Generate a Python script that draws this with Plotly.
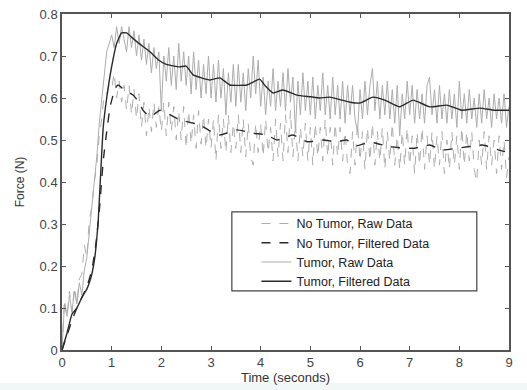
import plotly.graph_objects as go

# raw data sampled every 0.05 s
t_raw = [round(i * 0.05, 2) for i in range(181)]

tumor_raw = [
    0.00, 0.11, 0.08, 0.13, 0.09, 0.14, 0.11, 0.16, 0.13, 0.19,
    0.22, 0.28, 0.34, 0.40, 0.46, 0.54, 0.60, 0.66, 0.71, 0.73,
    0.75, 0.72, 0.77, 0.73, 0.77, 0.74, 0.71, 0.77, 0.72, 0.76,
    0.70, 0.75, 0.69, 0.74, 0.68, 0.73, 0.66, 0.72, 0.67, 0.71,
    0.57, 0.70, 0.64, 0.72, 0.63, 0.70, 0.62, 0.73, 0.64, 0.71,
    0.63, 0.70, 0.61, 0.71, 0.62, 0.69, 0.60, 0.68, 0.61, 0.70,
    0.60, 0.68, 0.59, 0.69, 0.60, 0.67, 0.56, 0.66, 0.59, 0.68,
    0.58, 0.68, 0.59, 0.66, 0.57, 0.67, 0.60, 0.70, 0.61, 0.69,
    0.58, 0.65, 0.56, 0.64, 0.58, 0.67, 0.57, 0.64, 0.58, 0.66,
    0.57, 0.67, 0.59, 0.65, 0.52, 0.64, 0.56, 0.66, 0.57, 0.64,
    0.56, 0.65, 0.55, 0.63, 0.57, 0.66, 0.56, 0.63, 0.55, 0.65,
    0.56, 0.63, 0.55, 0.64, 0.54, 0.63, 0.56, 0.63, 0.55, 0.52,
    0.62, 0.55, 0.64, 0.56, 0.63, 0.67, 0.57, 0.64, 0.55, 0.63,
    0.56, 0.64, 0.55, 0.62, 0.54, 0.63, 0.51, 0.61, 0.55, 0.64,
    0.56, 0.63, 0.54, 0.62, 0.55, 0.61, 0.54, 0.63, 0.65, 0.56,
    0.62, 0.54, 0.63, 0.55, 0.61, 0.54, 0.62, 0.55, 0.61, 0.53,
    0.64, 0.55, 0.61, 0.54, 0.62, 0.55, 0.60, 0.53, 0.61, 0.54,
    0.62, 0.55, 0.60, 0.53, 0.61, 0.55, 0.60, 0.54, 0.61, 0.53,
    0.58,
]

no_tumor_raw = [
    0.00, 0.12, 0.08, 0.14, 0.09, 0.15, 0.11, 0.17, 0.18, 0.25,
    0.22, 0.31, 0.34, 0.40, 0.44, 0.51, 0.55, 0.61, 0.61, 0.63,
    0.62, 0.66, 0.60, 0.64, 0.59, 0.63, 0.57, 0.63, 0.56, 0.62,
    0.55, 0.61, 0.53, 0.59, 0.51, 0.58, 0.52, 0.59, 0.53, 0.58,
    0.52, 0.59, 0.51, 0.59, 0.52, 0.58, 0.50, 0.57, 0.50, 0.58,
    0.48, 0.57, 0.49, 0.56, 0.48, 0.57, 0.49, 0.56, 0.48, 0.55,
    0.48, 0.55, 0.45, 0.56, 0.48, 0.55, 0.47, 0.56, 0.47, 0.54,
    0.48, 0.56, 0.47, 0.55, 0.46, 0.54, 0.46, 0.44, 0.54, 0.47,
    0.54, 0.46, 0.55, 0.47, 0.53, 0.45, 0.55, 0.46, 0.54, 0.45,
    0.56, 0.47, 0.57, 0.46, 0.54, 0.45, 0.53, 0.46, 0.54, 0.45,
    0.53, 0.44, 0.54, 0.46, 0.53, 0.45, 0.55, 0.46, 0.53, 0.44,
    0.54, 0.46, 0.53, 0.45, 0.52, 0.44, 0.42, 0.52, 0.44, 0.54,
    0.45, 0.52, 0.43, 0.53, 0.45, 0.54, 0.44, 0.52, 0.45, 0.53,
    0.43, 0.52, 0.45, 0.54, 0.44, 0.51, 0.43, 0.52, 0.44, 0.53,
    0.44, 0.51, 0.42, 0.52, 0.44, 0.53, 0.43, 0.51, 0.44, 0.52,
    0.43, 0.51, 0.44, 0.52, 0.42, 0.50, 0.43, 0.52, 0.44, 0.51,
    0.43, 0.53, 0.44, 0.52, 0.45, 0.52, 0.43, 0.40, 0.50, 0.44,
    0.52, 0.43, 0.51, 0.44, 0.50, 0.42, 0.51, 0.43, 0.50, 0.41,
    0.46,
]

t_tumor_filt = [0, 0.1, 0.2, 0.3, 0.4, 0.5, 0.55, 0.6, 0.66, 0.73, 0.77, 0.83, 0.9,
                1.0, 1.1, 1.2, 1.3, 1.4, 1.55, 1.77, 1.95, 2.1, 2.37, 2.5, 2.64, 2.98,
                3.18, 3.38, 3.72, 3.85, 3.98, 4.1, 4.25, 4.45, 4.73, 5.0, 5.19, 5.39, 5.8, 6.0,
                6.26, 6.5, 6.8, 7.07, 7.4, 7.75, 8.05, 8.41, 8.7, 9.0]
tumor_filt = [0, 0.04, 0.085, 0.10, 0.125, 0.145, 0.16, 0.18, 0.22, 0.31, 0.40, 0.53, 0.60,
              0.675, 0.73, 0.755, 0.755, 0.745, 0.73, 0.71, 0.69, 0.68, 0.674, 0.676, 0.655, 0.643,
              0.648, 0.631, 0.631, 0.638, 0.645, 0.628, 0.612, 0.619, 0.607, 0.603, 0.60, 0.602, 0.59, 0.588,
              0.602, 0.595, 0.579, 0.595, 0.579, 0.583, 0.571, 0.576, 0.571, 0.571]

t_no_tumor_filt = [0, 0.1, 0.2, 0.3, 0.4, 0.5, 0.6, 0.68, 0.75, 0.83, 0.9, 0.97, 1.07, 1.13,
                   1.25, 1.43, 1.55, 1.63, 1.77, 1.97, 2.1, 2.37, 2.78, 3.0, 3.18, 3.52, 3.85,
                   4.12, 4.33, 4.65, 4.93, 5.25, 5.53, 5.73, 5.93, 6.2, 6.6, 7.07, 7.4, 7.67,
                   7.94, 8.47, 8.8, 9.0]
no_tumor_filt = [0, 0.035, 0.07, 0.10, 0.125, 0.15, 0.19, 0.25, 0.33, 0.45, 0.52, 0.58, 0.623, 0.631,
                 0.62, 0.607, 0.59, 0.571, 0.555, 0.571, 0.565, 0.548, 0.536, 0.52, 0.512, 0.524, 0.516,
                 0.512, 0.50, 0.512, 0.496, 0.50, 0.496, 0.50, 0.486, 0.495, 0.484, 0.48, 0.488, 0.476,
                 0.48, 0.488, 0.476, 0.47]

x_ticks = [0, 1, 2, 3, 4, 5, 6, 7, 8, 9]
y_ticks = [0, 0.1, 0.2, 0.3, 0.4, 0.5, 0.6, 0.7, 0.8]
y_tick_text = ["0", "0.1", "0.2", "0.3", "0.4", "0.5", "0.6", "0.7", "0.8"]

FONT = "Liberation Sans, Arial, sans-serif"

fig = go.Figure()
fig.add_trace(go.Scatter(x=t_raw, y=no_tumor_raw, mode="lines", name="No Tumor, Raw Data",
                         line=dict(color="#adadad", width=1, dash="dash")))
fig.add_trace(go.Scatter(x=t_no_tumor_filt, y=no_tumor_filt, mode="lines", name="No Tumor, Filtered Data",
                         line=dict(color="#2a2a2a", width=1.4, dash="dash", shape="spline", smoothing=0.4)))
fig.add_trace(go.Scatter(x=t_raw, y=tumor_raw, mode="lines", name="Tumor, Raw Data",
                         line=dict(color="#adadad", width=1)))
fig.add_trace(go.Scatter(x=t_tumor_filt, y=tumor_filt, mode="lines", name="Tumor, Filtered Data",
                         line=dict(color="#2a2a2a", width=1.4, shape="spline", smoothing=0.4)))

axis_common = dict(showline=True, linecolor="#555555", linewidth=1.5, mirror="ticks",
                   ticks="inside", ticklen=4, tickcolor="#555555", showgrid=False, zeroline=False,
                   automargin=False,
                   tickfont=dict(family=FONT, size=13, color="#444444"))

fig.update_layout(
    width=527, height=390,
    margin=dict(l=62, r=18, t=14, b=40),
    paper_bgcolor="white", plot_bgcolor="white",
    font=dict(family=FONT, size=12, color="#333333"),
    xaxis=dict(range=[0, 9], tickvals=x_ticks, ticklabelstandoff=0,
               title=dict(text="Time (seconds)", font=dict(family=FONT, size=13, color="#333333"), standoff=2),
               **axis_common),
    yaxis=dict(range=[0, 0.8], tickvals=y_ticks, ticktext=y_tick_text,
               title=dict(text="Force (N)", font=dict(family=FONT, size=12, color="#333333"), standoff=12),
               **axis_common),
    legend=dict(x=0.435, y=0.42, xanchor="left", yanchor="top",
                bgcolor="rgba(0,0,0,0)", borderwidth=0,
                font=dict(family=FONT, size=12.5, color="#222222"),
                tracegroupgap=0),
    showlegend=True,
    shapes=[
        dict(type="rect", xref="paper", yref="paper", x0=-0.2, x1=1.1, y0=-0.125, y1=-0.098,
             line=dict(width=0), fillcolor="#f0f7f7", layer="below"),
        dict(type="rect", xref="paper", yref="paper", x0=0.380, x1=0.928, y0=0.176, y1=0.411,
             line=dict(color="#444444", width=1.2), fillcolor="white", layer="below"),
    ],
)

fig.write_html("out.html")
